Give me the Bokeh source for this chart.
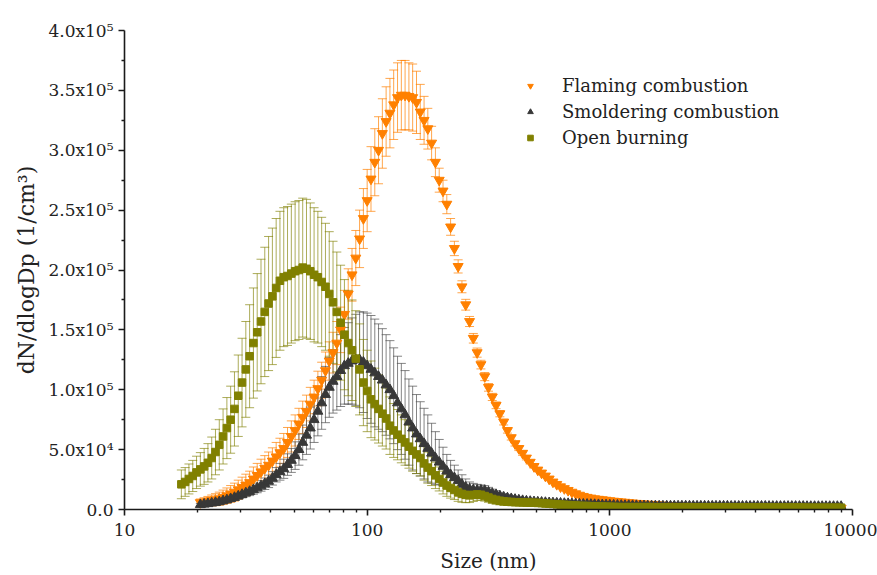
from bokeh.plotting import figure
from bokeh.models import (Range1d, FixedTicker, ColumnDataSource, Whisker, TeeHead,
                          Legend, LegendItem)
from bokeh.embed import file_html
from bokeh.resources import INLINE

# ---------------- data (sizes in nm, concentrations in 10^3 1/cm^3) ----------------
size_nm = [
    17.15, 17.78, 18.43, 19.11, 19.81, 20.54, 21.29, 22.07, 22.88, 23.71,
    24.58, 25.48, 26.42, 27.38, 28.39, 29.43, 30.51, 31.62, 32.78, 33.98,
    35.22, 36.52, 37.85, 39.24, 40.68, 42.17, 43.71, 45.31, 46.97, 48.70,
    50.48, 52.33, 54.25, 56.23, 58.29, 60.43, 62.64, 64.94, 67.32, 69.78,
    72.34, 74.99, 77.74, 80.58, 83.54, 86.60, 89.77, 93.06, 96.47,
    100.0, 103.7, 107.5, 111.4, 115.5, 119.7, 124.1, 128.6, 133.4, 138.3,
    143.3, 148.6, 154.0, 159.7, 165.5, 171.6, 177.8, 184.3, 191.1, 198.1,
    205.4, 212.9, 220.7, 228.8, 237.1, 245.8, 254.8, 264.2, 273.8, 283.9,
    294.3, 305.1, 316.2, 327.8, 339.8, 352.2, 365.2, 378.5, 392.4, 406.8,
    421.7, 437.1, 453.1, 469.7, 487.0, 504.8, 523.3, 542.5, 562.3, 582.9,
    604.3, 626.4, 649.4, 673.2, 697.8, 723.4, 749.9, 777.4, 805.8, 835.4,
    866.0, 897.7, 930.6, 964.7,
    1000, 1037, 1075, 1114, 1155, 1197, 1241, 1286, 1334, 1383,
    1433, 1486, 1540, 1597, 1655, 1716, 1778, 1843, 1911, 1981,
    2054, 2129, 2207, 2288, 2371, 2458, 2548, 2642, 2738, 2839,
    2943, 3051, 3162, 3278, 3398, 3522, 3652, 3785, 3924, 4068,
    4217, 4371, 4531, 4697, 4870, 5048, 5233, 5425, 5623, 5829,
    6043, 6264, 6494, 6732, 6978, 7234, 7499, 7774, 8058, 8354,
    8660, 8977,
]
# flaming and smoldering start at the 20.54 nm channel
size_fs = size_nm[5:]

flaming_k = [
    5.8, 6.3, 6.9, 7.6, 8.2, 9.0, 10.2, 11.5, 13.0, 14.5,
    16.5, 18.5, 20.5, 22.5, 25.5, 28.5, 31.5, 34.5, 37.0, 40.5,
    44, 47.5, 51, 56, 61, 66, 71.5, 77, 82, 88,
    94, 101, 108, 116, 124, 131, 139, 150, 163, 180,
    196, 210, 226, 243, 258, 276, 290, 300, 314, 324,
    331, 338, 344, 346, 346, 345, 344, 340, 332, 325,
    318, 306, 290, 275, 266, 255, 236, 218, 203, 186,
    171, 157, 143, 131, 121, 111, 102, 94, 87, 80,
    73, 66, 60, 55, 51, 47, 43, 39.5, 36, 33,
    30.5, 28, 25.5, 23, 21, 19, 17.5, 16, 14.5, 13.2,
    12, 11, 10.2, 9.6, 9.0, 8.6, 8.2, 7.8, 7.4, 7.0,
    6.7, 6.4, 6.1, 5.8, 5.5, 5.2, 5.0, 4.7, 4.5, 4.3,
    4.1, 3.9, 3.7, 3.5, 3.3, 3.2, 3.0, 2.9, 2.8, 2.7,
    2.6, 2.5, 2.4, 2.3, 2.2, 2.1, 2.0, 1.9, 1.9, 1.8,
    1.8, 1.7, 1.7, 1.6, 1.6, 1.5, 1.5, 1.5, 1.4, 1.4,
    1.4, 1.3, 1.3, 1.3, 1.2, 1.2, 1.2, 1.2, 1.1, 1.1,
    1.1, 1.1, 1.0, 1.0, 1.0, 1.0, 1.0, 1.0, 1.0, 1.0,
]
flaming_err_k = [
    3, 3.5, 4, 4.5, 5, 5.5, 6, 6.5, 7, 7.5,
    8, 8.5, 9, 9.5, 10, 10, 10.5, 10.5, 11, 11,
    12, 12, 12.5, 12.5, 13, 13, 13, 13.5, 13.5, 14,
    14, 14.5, 15, 15.5, 16, 17, 18, 19, 20, 21,
    22, 23, 24, 25, 26, 27, 28, 28, 29, 29,
    29, 29, 29, 29, 29, 28, 28, 26, 23, 20,
    17, 14, 12, 10, 9, 8, 7, 6, 5.5, 5,
    4.5, 4.2, 4, 3.8, 3.6, 3.4, 3.2, 3, 2.8, 2.6,
    2.4, 2.2, 2, 2, 1.8, 1.8, 1.6, 1.6, 1.5, 1.5,
    1.4, 1.4, 1.4, 1.4, 1.4, 1.4, 1.4, 1.4, 1.4, 1.4,
    1.2, 1.2, 1.2, 1.2, 1.2, 1.2, 1.2, 1.2, 1.2, 1.2,
    1.0, 1.0, 1.0, 1.0, 1.0, 1.0, 1.0, 1.0, 1.0, 1.0,
    0.9, 0.9, 0.9, 0.9, 0.9, 0.9, 0.9, 0.9, 0.9, 0.9,
    0.8, 0.8, 0.8, 0.8, 0.8, 0.8, 0.8, 0.8, 0.8, 0.8,
    0.7, 0.7, 0.7, 0.7, 0.7, 0.7, 0.7, 0.7, 0.7, 0.7,
    0.6, 0.6, 0.6, 0.6, 0.6, 0.6, 0.6, 0.6, 0.6, 0.6,
    0.5, 0.5, 0.5, 0.5, 0.5, 0.5, 0.5, 0.5, 0.5, 0.5,
]

smoldering_k = [
    4.0, 4.4, 4.8, 5.3, 5.8, 6.4, 7.2, 8.0, 9.0, 10.0,
    11.2, 12.5, 13.8, 15, 16.5, 18, 19.7, 21.5, 23.5, 26,
    29, 31.5, 34, 37.5, 41, 45, 50, 56, 62, 68,
    75, 82, 89, 96, 102, 107, 111, 116, 120, 122,
    124, 125, 125, 123, 120, 117, 114, 111, 108, 104,
    100, 95, 89, 84, 79, 73, 68, 63, 59, 55,
    51, 47, 43, 39.5, 36, 32, 29, 26.5, 24, 21,
    18.5, 17, 16.3, 16, 16, 15.8, 14.5, 13.3, 12.3, 11.2,
    10.3, 9.6, 9.0, 8.4, 7.9, 7.4, 7.0, 6.7, 6.4, 6.2,
    6.0, 5.8, 5.6, 5.5, 5.3, 5.2, 5.0, 4.9, 4.8, 4.6,
    4.5, 4.4, 4.3, 4.2, 4.1, 4.0, 3.9, 3.8, 3.7, 3.6,
    3.5, 3.4, 3.3, 3.3, 3.2, 3.2, 3.1, 3.1, 3.0, 3.0,
    3.0, 2.9, 2.9, 2.9, 2.9, 2.9, 2.9, 2.9, 2.9, 2.9,
    2.8, 2.8, 2.8, 2.8, 2.8, 2.8, 2.8, 2.8, 2.8, 2.8,
    2.7, 2.7, 2.7, 2.7, 2.7, 2.7, 2.7, 2.7, 2.7, 2.7,
    2.6, 2.6, 2.6, 2.6, 2.6, 2.6, 2.6, 2.6, 2.6, 2.6,
    2.5, 2.5, 2.5, 2.5, 2.5, 2.5, 2.5, 2.5, 2.5, 2.5,
]
smoldering_err_k = [
    1.0, 1.1, 1.2, 1.3, 1.4, 1.5, 1.7, 1.9, 2.1, 2.3,
    2.5, 2.8, 3.1, 3.4, 3.7, 4.0, 4.4, 4.8, 5.2, 5.6,
    6, 7, 8, 9, 10, 11.5, 13, 14.5, 16, 17.5,
    19, 20.5, 22, 23.5, 25, 26.5, 28, 30, 32, 34,
    36, 38, 40, 42, 44, 45, 45, 44, 43, 42,
    41, 40, 39, 38, 37, 36, 35, 33, 31, 29.5,
    28, 25, 22, 19, 16, 14, 12, 10.5, 9, 8,
    7, 6, 5.5, 5, 4.5, 4.2, 4, 3.7, 3.4, 3.2,
    3, 2.8, 2.6, 2.4, 2.2, 2.0, 1.9, 1.8, 1.7, 1.6,
    1.5, 1.5, 1.5, 1.5, 1.5, 1.5, 1.5, 1.5, 1.5, 1.5,
    1.4, 1.4, 1.4, 1.4, 1.4, 1.4, 1.4, 1.4, 1.4, 1.4,
    1.3, 1.3, 1.3, 1.3, 1.3, 1.3, 1.3, 1.3, 1.3, 1.3,
    1.2, 1.2, 1.2, 1.2, 1.2, 1.2, 1.2, 1.2, 1.2, 1.2,
    1.1, 1.1, 1.1, 1.1, 1.1, 1.1, 1.1, 1.1, 1.1, 1.1,
    1.0, 1.0, 1.0, 1.0, 1.0, 1.0, 1.0, 1.0, 1.0, 1.0,
    1.0, 1.0, 1.0, 1.0, 1.0, 1.0, 1.0, 1.0, 1.0, 1.0,
    1.0, 1.0, 1.0, 1.0, 1.0, 1.0, 1.0, 1.0, 1.0, 1.0,
]

open_burning_k = [
    21, 23, 25.5, 28, 31,
    33.5, 36, 39, 43, 48, 54, 61, 68, 75, 84,
    95, 106, 117, 128, 139, 148, 157, 165, 172, 178,
    185, 191, 194, 195, 197, 199, 200, 202, 201, 199,
    196, 194, 190, 186, 180, 173, 165, 156, 146, 139,
    133, 126, 117, 106, 99, 92, 88, 84, 80, 76,
    70, 66, 62.5, 59, 56, 52.5, 49, 46, 43, 38.5,
    35, 32, 28.5, 25.5, 22.5, 20, 18, 16.3, 14.3, 13,
    12.2, 11.8, 12.2, 12.6, 12.3, 11.2, 10, 8.8, 8.0, 7.3,
    6.8, 6.5, 6.3, 6.1, 6.0, 5.9, 5.8, 5.7, 5.6, 5.5,
    5.3, 5.0, 4.8, 4.6, 4.3, 4.1, 3.9, 3.7, 3.5, 3.3,
    3.1, 3.0, 2.9, 2.8, 2.7, 2.6, 2.5, 2.4, 2.3, 2.2,
    2.1, 2.0, 2.0, 2.0, 2.0, 2.0, 2.0, 2.0, 2.0, 2.0,
    1.9, 1.9, 1.9, 1.9, 1.9, 1.9, 1.9, 1.9, 1.9, 1.9,
    1.8, 1.8, 1.8, 1.8, 1.8, 1.8, 1.8, 1.8, 1.8, 1.8,
    1.7, 1.7, 1.7, 1.7, 1.7, 1.7, 1.7, 1.7, 1.7, 1.7,
    1.6, 1.6, 1.6, 1.6, 1.6, 1.6, 1.6, 1.6, 1.6, 1.6,
    1.5, 1.5, 1.5, 1.5, 1.5, 1.5, 1.5, 1.5, 1.5, 1.5,
]
open_burning_err_k = [
    12, 12, 12.5, 13, 13.5,
    14, 15, 16, 17.5, 19, 21, 23, 25.5, 28, 31,
    34, 37, 40, 43, 46, 49, 52, 54, 56, 57,
    58, 58, 58, 58, 58, 58, 58, 58, 58, 57,
    56, 55, 54, 53, 52, 51, 50, 48, 46, 44,
    42, 40, 38, 36, 34, 32, 30, 28.5, 27, 25.5,
    24, 22.5, 21, 20, 19, 18, 17, 16, 15, 14,
    13, 12, 11, 10, 9.5, 9, 8.5, 8, 7.5, 7,
    6.5, 6, 5.5, 5, 4.5, 4.2, 4, 3.8, 3.6, 3.4,
    3.2, 3, 2.8, 2.6, 2.4, 2.2, 2.0, 1.9, 1.8, 1.7,
    1.6, 1.6, 1.6, 1.6, 1.6, 1.6, 1.6, 1.6, 1.6, 1.6,
    1.5, 1.5, 1.5, 1.5, 1.5, 1.5, 1.5, 1.5, 1.5, 1.5,
    1.4, 1.4, 1.4, 1.4, 1.4, 1.4, 1.4, 1.4, 1.4, 1.4,
    1.3, 1.3, 1.3, 1.3, 1.3, 1.3, 1.3, 1.3, 1.3, 1.3,
    1.2, 1.2, 1.2, 1.2, 1.2, 1.2, 1.2, 1.2, 1.2, 1.2,
    1.1, 1.1, 1.1, 1.1, 1.1, 1.1, 1.1, 1.1, 1.1, 1.1,
    1.0, 1.0, 1.0, 1.0, 1.0, 1.0, 1.0, 1.0, 1.0, 1.0,
    1.0, 1.0, 1.0, 1.0, 1.0, 1.0, 1.0, 1.0, 1.0, 1.0,
]

series_labels = ["Flaming combustion", "Smoldering combustion", "Open burning"]

x_ticks = [10, 100, 1000, 10000]
x_tick_labels = ["10", "100", "1000", "10000"]
x_minor_ticks = [20, 30, 40, 50, 60, 70, 80, 90,
                 200, 300, 400, 500, 600, 700, 800, 900,
                 2000, 3000, 4000, 5000, 6000, 7000, 8000, 9000]
y_ticks = [0, 50000, 100000, 150000, 200000, 250000, 300000, 350000, 400000]
y_tick_labels = ["0.0", "5.0x10\u2074", "1.0x10\u2075", "1.5x10\u2075", "2.0x10\u2075",
                 "2.5x10\u2075", "3.0x10\u2075", "3.5x10\u2075", "4.0x10\u2075"]
y_minor_ticks = [25000, 75000, 125000, 175000, 225000, 275000, 325000, 375000]

# ---------------- styling ----------------
FONT = "DejaVu Serif"
ORANGE = "#FF8000"
GRAY = "#383838"
OLIVE = "#808000"

p = figure(width=877, height=575, x_axis_type="log",
           x_range=Range1d(10, 10000), y_range=Range1d(0, 400000),
           output_backend="svg", toolbar_location=None,
           min_border_left=124, min_border_right=25,
           min_border_top=30, min_border_bottom=65)
p.outline_line_color = None
p.xgrid.visible = False
p.ygrid.visible = False
p.background_fill_color = "white"
p.border_fill_color = "white"

p.xaxis.ticker = FixedTicker(ticks=x_ticks, minor_ticks=x_minor_ticks)
p.xaxis.major_label_overrides = dict(zip(x_ticks, x_tick_labels))
p.yaxis.ticker = FixedTicker(ticks=y_ticks, minor_ticks=y_minor_ticks)
p.yaxis.major_label_overrides = dict(zip(y_ticks, y_tick_labels))

for ax in (p.xaxis[0], p.yaxis[0]):
    ax.axis_line_width = 1.6
    ax.axis_line_color = "#1a1a1a"
    ax.major_tick_line_width = 1.6
    ax.minor_tick_line_width = 1.4
    ax.major_tick_line_color = "#1a1a1a"
    ax.minor_tick_line_color = "#1a1a1a"
    ax.major_tick_in = 0
    ax.major_tick_out = 6
    ax.minor_tick_in = 0
    ax.minor_tick_out = 3
    ax.major_label_text_font = FONT
    ax.major_label_text_font_size = "17px"
    ax.major_label_text_color = "#222222"
    ax.axis_label_text_font = FONT
    ax.axis_label_text_font_style = "normal"
    ax.axis_label_text_color = "#222222"

p.xaxis.axis_label = "Size (nm)"
p.xaxis.axis_label_text_font_size = "20px"
p.xaxis.major_label_standoff = 8
p.xaxis.axis_label_standoff = 10
p.yaxis.axis_label = "dN/dlogDp (1/cm\u00b3)"
p.yaxis.axis_label_text_font_size = "22px"
p.yaxis.major_label_standoff = 5
p.yaxis.axis_label_standoff = 6


def to_abs(vals):
    return [v * 1000.0 for v in vals]


def add_errorbars(x, y_k, err_k, color, alpha):
    y = to_abs(y_k)
    e = to_abs(err_k)
    src = ColumnDataSource(dict(x=x, lo=[a - b for a, b in zip(y, e)],
                                hi=[a + b for a, b in zip(y, e)]))
    head = dict(size=9, line_color=color, line_alpha=alpha, line_width=1)
    w = Whisker(source=src, base="x", lower="lo", upper="hi",
                line_color=color, line_alpha=alpha, line_width=1, level="underlay",
                upper_head=TeeHead(**head), lower_head=TeeHead(**head))
    p.add_layout(w)


add_errorbars(size_fs, flaming_k, flaming_err_k, ORANGE, 0.7)
add_errorbars(size_fs, smoldering_k, smoldering_err_k, "#505050", 0.7)
add_errorbars(size_nm, open_burning_k, open_burning_err_k, OLIVE, 0.65)

r_f = p.scatter(size_fs, to_abs(flaming_k), marker="inverted_triangle", size=10,
                fill_color=ORANGE, line_color=ORANGE)
r_s = p.scatter(size_fs, to_abs(smoldering_k), marker="triangle", size=10,
                fill_color=GRAY, line_color=GRAY)
r_o = p.scatter(size_nm, to_abs(open_burning_k), marker="square", size=7.5,
                fill_color=OLIVE, line_color=OLIVE)

legend = Legend(items=[LegendItem(label=series_labels[0], renderers=[r_f]),
                       LegendItem(label=series_labels[1], renderers=[r_s]),
                       LegendItem(label=series_labels[2], renderers=[r_o])],
                location=(399, 361))
legend.border_line_color = None
legend.background_fill_alpha = 0
legend.label_text_font = FONT
legend.label_text_font_size = "18px"
legend.label_text_color = "#222222"
legend.glyph_width = 14
legend.glyph_height = 21
legend.label_height = 21
legend.label_standoff = 25
legend.spacing = 5
legend.padding = 0
legend.margin = 0
p.add_layout(legend)

open("out.html", "w").write(file_html(p, INLINE))
